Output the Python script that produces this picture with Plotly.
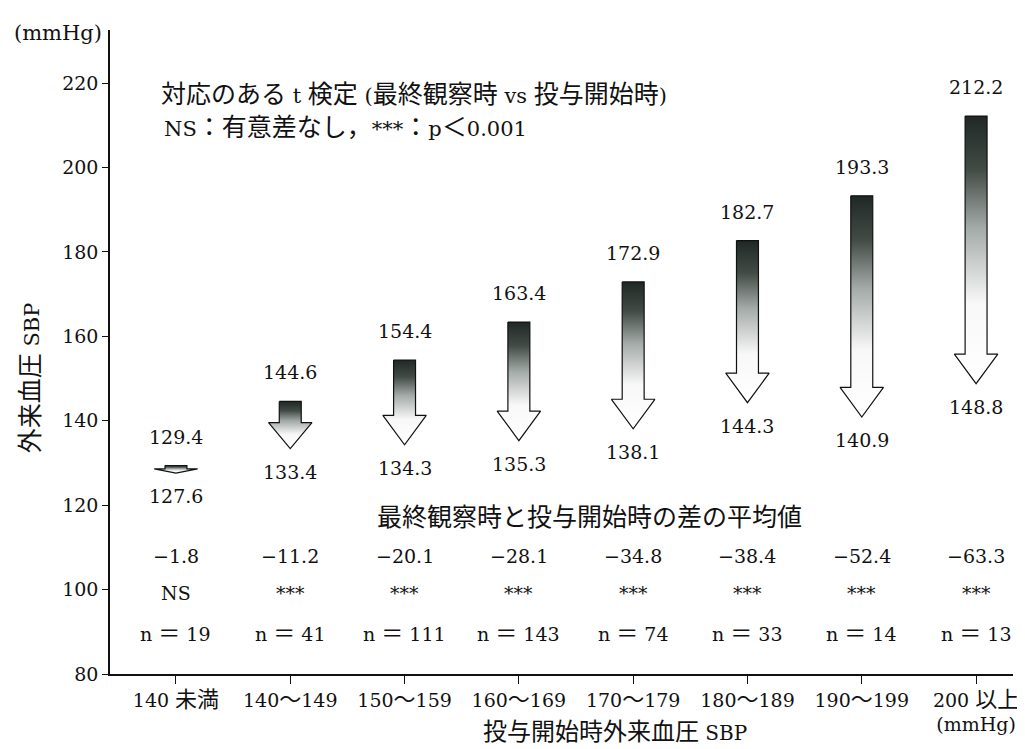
import plotly.graph_objects as go

# データ
categories = ["140 未満", "140～149", "150～159", "160～169", "170～179", "180～189", "190～199", "200 以上"]
start_sbp = [129.4, 144.6, 154.4, 163.4, 172.9, 182.7, 193.3, 212.2]   # 投与開始時
end_sbp = [127.6, 133.4, 134.3, 135.3, 138.1, 144.3, 140.9, 148.8]     # 最終観察時
diff_mean = [-1.8, -11.2, -20.1, -28.1, -34.8, -38.4, -52.4, -63.3]
signif = ["NS", "***", "***", "***", "***", "***", "***", "***"]
n_count = [19, 41, 111, 143, 74, 33, 14, 13]

FONT = "DejaVu Serif, Noto Sans CJK JP, serif"
gray_scale = [[0, "#ffffff"], [0.3, "#f8f8f8"], [0.58, "#a4aba8"],
              [0.8, "#434b47"], [1, "#1f2824"]]


def jp(s, size=22):
    # 和文部分だけ大きめの文字にする
    out, run = "", ""
    for ch in s:
        if ord(ch) > 0x2E80:
            run += ch
        else:
            if run:
                out += f'<span style="font-size:{size}px">{run}</span>'
                run = ""
            out += ch
    if run:
        out += f'<span style="font-size:{size}px">{run}</span>'
    return out


fig = go.Figure()

shaft_w = 0.096
head_w = 0.19
for i, (s, e) in enumerate(zip(start_sbp, end_sbp)):
    length = s - e
    head_h = min(7.0, 0.55 * length)
    neck = e + head_h
    xs = [i - shaft_w, i + shaft_w, i + shaft_w, i + head_w, i, i - head_w, i - shaft_w, i - shaft_w]
    ys = [s, s, neck, neck, e, neck, neck, s]
    fig.add_trace(go.Scatter(
        x=xs, y=ys, mode="lines", fill="toself",
        line=dict(color="#111111", width=1.2),
        fillgradient=dict(type="vertical", colorscale=gray_scale, start=e, stop=s),
        hoverinfo="skip", showlegend=False))

# 開始時・最終時の数値と差・検定・例数
for i, (s, e) in enumerate(zip(start_sbp, end_sbp)):
    fig.add_annotation(x=i, y=s, text=f"{s:.1f}", showarrow=False,
                       yanchor="bottom", yshift=16)
    fig.add_annotation(x=i, y=e, text=f"{e:.1f}", showarrow=False,
                       yanchor="top", yshift=-10)
    fig.add_annotation(x=i, y=107.9, text=f"{diff_mean[i]:.1f}".replace("-", "−"), showarrow=False)
    fig.add_annotation(x=i, y=99.1, text=signif[i], showarrow=False)
    fig.add_annotation(x=i, y=89.7, text=jp(f"n ＝ {n_count[i]}", 22), showarrow=False)

fig.add_annotation(x=3.62, y=117.2, text=jp("最終観察時と投与開始時の差の平均値", 25),
                   showarrow=False)
fig.add_annotation(x=-0.15, y=217.2, text=jp("対応のある t 検定 (最終観察時 vs 投与開始時)", 25),
                   showarrow=False, xanchor="left", font=dict(size=21))
fig.add_annotation(x=-0.12, y=209.6, text=jp("NS：有意差なし，***：p＜0.001", 25),
                   showarrow=False, xanchor="left", font=dict(size=21))

# 軸まわりの文字
fig.add_annotation(xref="paper", yref="paper", x=-0.088, y=0.46, text=jp("外来血圧 SBP", 25),
                   textangle=-90, showarrow=False, xanchor="center", yanchor="middle",
                   font=dict(size=21))
fig.add_annotation(xref="paper", yref="paper", x=-0.058, y=0.995, text="(mmHg)",
                   showarrow=False, xanchor="center", yanchor="middle", font=dict(size=21))
fig.add_annotation(xref="paper", yref="paper", x=0.559, y=-0.09,
                   text=jp("投与開始時外来血圧 SBP", 24), showarrow=False,
                   xanchor="center", yanchor="middle", font=dict(size=20))

ticktext = [jp(c, 22) for c in categories]
ticktext[-1] += "<br>(mmHg)"

# ページの余白 (8px) を差し引いた大きさ
fig.update_layout(
    width=1017, height=741,
    margin=dict(l=102, r=12, t=22, b=75),
    plot_bgcolor="white", paper_bgcolor="white",
    font=dict(family=FONT, size=19, color="#111111"),
    xaxis=dict(range=[-0.577, 7.323], tickmode="array", tickvals=list(range(len(categories))),
               ticktext=ticktext, showline=True, linecolor="#111111", linewidth=1.5,
               ticks="outside", ticklen=8, tickcolor="#111111", showgrid=False, zeroline=False,
               automargin=False),
    yaxis=dict(range=[80, 232.6], tickvals=[80, 100, 120, 140, 160, 180, 200, 220],
               showline=True, linecolor="#111111", linewidth=1.5,
               ticks="outside", ticklen=6, tickcolor="#111111", showgrid=False, zeroline=False,
               automargin=False),
)

fig.write_html("out.html")
